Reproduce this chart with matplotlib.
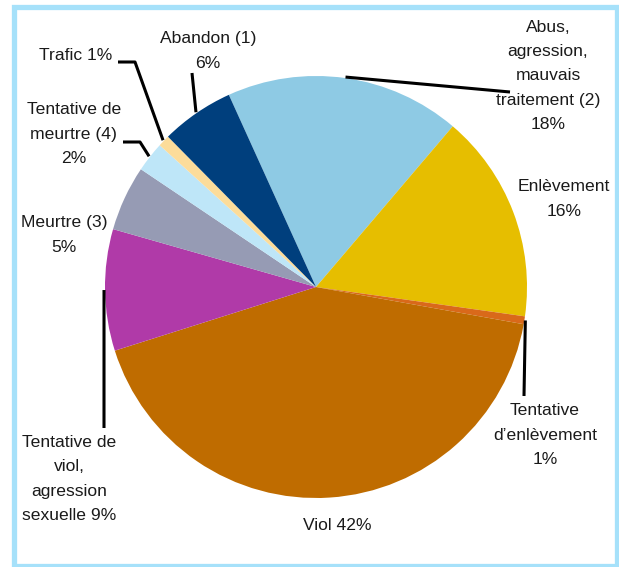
import numpy as np
import matplotlib
matplotlib.use("Agg")
from matplotlib import pyplot as plt
from matplotlib.patches import Rectangle

# ------------------- #
# Data (percent, clockwise from the top)

labels = [
    "Abus,\nagression,\nmauvais\ntraitement (2)\n18%",
    "Enlèvement\n16%",
    "Tentative\nd\u2019enlèvement\n1%",
    "Viol 42%",
    "Tentative de\nviol,\nagression\nsexuelle 9%",
    "Meurtre (3)\n5%",
    "Tentative de\nmeurtre (4)\n2%",
    "Trafic 1%",
    "Abandon (1)\n6%",
]
values = [18.0, 16.0, 0.6, 42.3, 9.3, 5.0, 2.3, 0.9, 5.6]
colors = [
    "#8ecae4", "#e6be00", "#d9691a", "#bf6c00", "#b03aa8",
    "#969bb4", "#bee6f8", "#fcdc9a", "#003f7d",
]

# label centre (pixels from top-left) and optional leader elbow
label_pos = [
    (548, 76), (564, 199), (545, 435), (337, 525), (69, 479),
    (64, 235), (74, 134), (76, 55), (208, 51),
]
leader_end = {
    0: [(510, 92)],
    2: [(524, 396)],
    4: [(104, 428)],
    6: [(140, 142), (123, 142)],
    7: [(135, 62), (118, 62)],
    8: [(192, 73)],
}

W, H = 619, 567
CX, CY, R = 316, 287, 211

plt.rcParams["font.family"] = ["Liberation Sans", "DejaVu Sans"]

fig = plt.figure(figsize=(W / 100, H / 100), dpi=100)
ax = fig.add_axes([0, 0, 1, 1])

wedges, _ = ax.pie(
    values,
    colors=colors,
    startangle=114.4,
    counterclock=False,
    center=(CX, H - CY),
    radius=R,
    frame=True,
)
ax.set_xlim(0, W)
ax.set_ylim(0, H)
ax.set_aspect("equal")
ax.axis("off")

for i, w in enumerate(wedges):
    x, y = label_pos[i]
    ax.text(x, H - y, labels[i], ha="center", va="center", fontsize=12.6,
            color="#1a1a1a", linespacing=1.78)
    if i in leader_end:
        mid = np.deg2rad((w.theta1 + w.theta2) / 2)
        px = CX + (R + 1) * np.cos(mid)
        py = (H - CY) + (R + 1) * np.sin(mid)
        xs = [px] + [p[0] for p in leader_end[i]]
        ys = [py] + [H - p[1] for p in leader_end[i]]
        ax.plot(xs, ys, color="black", lw=2.2, solid_capstyle="butt")

ax.add_patch(Rectangle((13.5, H - 565.5), 603, 559, fill=False,
                       edgecolor="#a6e1fa", lw=3.8, clip_on=False))

fig.savefig("out.png", dpi=100)
